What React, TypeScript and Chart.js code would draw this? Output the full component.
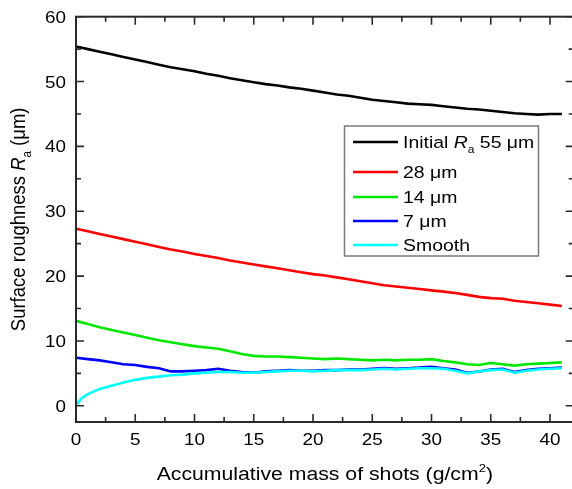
import React, { useEffect, useRef } from "react";
import { Chart, registerables } from "chart.js";

Chart.register(...registerables);

// ---- Data ----
const massX = [0, 1, 2, 3, 4, 5, 6, 7, 8, 9, 10, 11, 12, 13, 14, 15, 16, 17, 18, 19, 20, 21, 22, 23, 24, 25, 26, 27, 28, 29, 30, 31, 32, 33, 34, 35, 36, 37, 38, 39, 40, 41];
const initial55 = [55.4, 55.0, 54.6, 54.2, 53.8, 53.4, 53.0, 52.6, 52.2, 51.9, 51.6, 51.2, 50.9, 50.5, 50.2, 49.9, 49.6, 49.4, 49.1, 48.9, 48.6, 48.3, 48.0, 47.8, 47.5, 47.2, 47.0, 46.8, 46.6, 46.5, 46.4, 46.2, 46.0, 45.8, 45.7, 45.5, 45.3, 45.1, 45.0, 44.9, 45.0, 45.0];
const ra28 = [27.3, 26.9, 26.5, 26.1, 25.7, 25.3, 24.9, 24.5, 24.1, 23.8, 23.4, 23.1, 22.8, 22.4, 22.1, 21.8, 21.5, 21.2, 20.9, 20.6, 20.3, 20.1, 19.8, 19.5, 19.2, 18.9, 18.6, 18.4, 18.2, 18.0, 17.8, 17.6, 17.4, 17.1, 16.8, 16.6, 16.5, 16.2, 16.0, 15.8, 15.6, 15.4];
const ra14 = [13.1, 12.6, 12.1, 11.7, 11.3, 10.9, 10.5, 10.1, 9.8, 9.5, 9.2, 9.0, 8.8, 8.4, 8.0, 7.7, 7.6, 7.6, 7.5, 7.4, 7.3, 7.2, 7.3, 7.2, 7.1, 7.0, 7.1, 7.0, 7.1, 7.1, 7.2, 6.9, 6.7, 6.4, 6.3, 6.6, 6.4, 6.2, 6.4, 6.5, 6.6, 6.7];
const ra7 = [7.4, 7.2, 7.0, 6.7, 6.4, 6.3, 6.0, 5.8, 5.3, 5.3, 5.4, 5.5, 5.7, 5.4, 5.2, 5.1, 5.3, 5.4, 5.5, 5.4, 5.4, 5.5, 5.5, 5.6, 5.6, 5.7, 5.8, 5.7, 5.8, 5.9, 6.0, 5.8, 5.6, 5.1, 5.3, 5.6, 5.7, 5.2, 5.5, 5.7, 5.8, 5.9];
const smoothX = [0, 0.5, 1, 2, 3, 4, 5, 6, 7, 8, 9, 10, 11, 12, 13, 14, 15, 16, 17, 18, 19, 20, 21, 22, 23, 24, 25, 26, 27, 28, 29, 30, 31, 32, 33, 34, 35, 36, 37, 38, 39, 40, 41];
const smooth = [0.1, 1.2, 1.8, 2.6, 3.1, 3.6, 4.0, 4.3, 4.5, 4.7, 4.8, 5.0, 5.1, 5.2, 5.2, 5.1, 5.1, 5.2, 5.3, 5.4, 5.4, 5.3, 5.4, 5.5, 5.5, 5.5, 5.6, 5.7, 5.6, 5.7, 5.8, 5.8, 5.7, 5.4, 5.0, 5.3, 5.5, 5.6, 5.1, 5.4, 5.6, 5.7, 5.8];

const xMajorTicks = [0, 5, 10, 15, 20, 25, 30, 35, 40];
const xMinorTicks = [2.5, 7.5, 12.5, 17.5, 22.5, 27.5, 32.5, 37.5];
const yMajorTicks = [0, 10, 20, 30, 40, 50, 60];
const yMinorTicks = [5, 15, 25, 35, 45, 55];

const seriesNames = ["28 \u03bcm", "14 \u03bcm", "7 \u03bcm", "Smooth"];
const seriesColors = ["#000000", "#ff0000", "#00e800", "#0000ff", "#00ffff"];

// ---- Text helpers ----
const FONT = '"Liberation Sans", Arial, Helvetica, sans-serif';
const SX = 1.13; // horizontal stretch seen in the reference

type Seg = { t: string; it?: boolean; sub?: boolean; sup?: boolean };

function segFont(s: Seg, size: number) {
  const sz = s.sub || s.sup ? size * 0.62 : size;
  return `${s.it ? "italic " : ""}${sz}px ${FONT}`;
}
function richWidth(ctx: CanvasRenderingContext2D, segs: Seg[], size: number) {
  let w = 0;
  for (const s of segs) {
    ctx.font = segFont(s, size);
    w += ctx.measureText(s.t).width;
  }
  return w;
}
function drawRich(ctx: CanvasRenderingContext2D, segs: Seg[], x: number, y: number, size: number) {
  let cx = x;
  ctx.textBaseline = "alphabetic";
  ctx.textAlign = "left";
  for (const s of segs) {
    ctx.font = segFont(s, size);
    const dy = s.sub ? size * 0.28 : s.sup ? -size * 0.42 : 0;
    ctx.fillText(s.t, cx, y + dy);
    cx += ctx.measureText(s.t).width;
  }
}
// draw horizontally stretched text; anchor: 'left' | 'center' | 'right'; yc = vertical center of caps
function drawH(ctx: CanvasRenderingContext2D, segs: Seg[], x: number, yc: number, size: number, anchor: string) {
  const w = richWidth(ctx, segs, size) * SX;
  let x0 = x;
  if (anchor === "center") x0 = x - w / 2;
  if (anchor === "right") x0 = x - w;
  ctx.save();
  ctx.translate(x0, yc + size * 0.36);
  ctx.scale(SX, 1);
  drawRich(ctx, segs, 0, 0, size);
  ctx.restore();
}

const framePlugin = {
  id: "framePlugin",
  afterDatasetsDraw(chart: any) {
    const ctx: CanvasRenderingContext2D = chart.ctx;
    const { left, right, top, bottom } = chart.chartArea;
    const xs = chart.scales.x;
    const ys = chart.scales.y;
    ctx.save();
    // frame
    ctx.strokeStyle = "#2a2a2a";
    ctx.lineWidth = 2;
    ctx.strokeRect(left, top, right - left, bottom - top);
    // inward ticks
    ctx.lineWidth = 1.6;
    ctx.beginPath();
    const tick = (v: number, len: number, axis: string) => {
      if (axis === "x") {
        const p = xs.getPixelForValue(v);
        ctx.moveTo(p, bottom);
        ctx.lineTo(p, bottom - len);
        ctx.moveTo(p, top);
        ctx.lineTo(p, top + len);
      } else {
        const p = ys.getPixelForValue(v);
        ctx.moveTo(left, p);
        ctx.lineTo(left + len, p);
        ctx.moveTo(right, p);
        ctx.lineTo(right - len, p);
      }
    };
    xMajorTicks.forEach((v) => tick(v, 8, "x"));
    xMinorTicks.forEach((v) => tick(v, 5, "x"));
    yMajorTicks.forEach((v) => tick(v, 8, "y"));
    yMinorTicks.forEach((v) => tick(v, 5, "y"));
    ctx.stroke();

    // tick labels
    ctx.fillStyle = "#000";
    const tsz = 16.7;
    xMajorTicks.forEach((v) => drawH(ctx, [{ t: String(v) }], xs.getPixelForValue(v), 439, tsz, "center"));
    yMajorTicks.forEach((v) => drawH(ctx, [{ t: String(v) }], 66, ys.getPixelForValue(v), tsz, "right"));

    // x title
    drawH(
      ctx,
      [{ t: "Accumulative mass of shots (g/cm" }, { t: "2", sup: true }, { t: ")" }],
      (left + 573.7) / 2,
      473,
      18.8,
      "center"
    );

    // y title (rotated)
    const ysz = 18.5;
    const ySegs: Seg[] = [{ t: "Surface roughness " }, { t: "R", it: true }, { t: "a", sub: true }, { t: " (\u03bcm)" }];
    const yw = richWidth(ctx, ySegs, ysz);
    ctx.save();
    ctx.translate(17.5, (top + bottom) / 2);
    ctx.rotate(-Math.PI / 2);
    ctx.scale(1, SX);
    drawRich(ctx, ySegs, -yw / 2, ysz * 0.36, ysz);
    ctx.restore();

    // legend
    ctx.fillStyle = "#fff";
    ctx.fillRect(344.5, 126, 194, 130);
    ctx.strokeStyle = "#7a7a7a";
    ctx.lineWidth = 1.5;
    ctx.strokeRect(344.5, 126, 194, 130);
    const rows = [142, 172, 197, 221, 245];
    const labels: Seg[][] = [
      [{ t: "Initial " }, { t: "R", it: true }, { t: "a", sub: true }, { t: " 55 \u03bcm" }],
      ...seriesNames.map((n) => [{ t: n }]),
    ];
    rows.forEach((ry, i) => {
      ctx.strokeStyle = seriesColors[i];
      ctx.lineWidth = 2.6;
      ctx.beginPath();
      ctx.moveTo(353, ry);
      ctx.lineTo(398, ry);
      ctx.stroke();
      ctx.fillStyle = "#000";
      drawH(ctx, labels[i], 403, ry, 17.2, "left");
    });
    ctx.restore();
  },
};

export default function App() {
  const ref = useRef<HTMLCanvasElement | null>(null);
  useEffect(() => {
    if (!ref.current) return;
    const mk = (xv: number[], yv: number[]) => xv.map((x, i) => ({ x, y: yv[i] }));
    const allSeries = [
      mk(massX, initial55),
      mk(massX, ra28),
      mk(massX, ra14),
      mk(massX, ra7),
      mk(smoothX, smooth),
    ];
    const names = ["Initial Ra 55 \u03bcm", ...seriesNames];
    const chart = new Chart(ref.current, {
      type: "line",
      data: {
        datasets: allSeries.map((d, i) => ({
          label: names[i],
          data: d,
          borderColor: seriesColors[i],
          backgroundColor: seriesColors[i],
          borderWidth: 2.6,
          pointRadius: 0,
          tension: 0,
          fill: false,
          order: 4 - i,
        })),
      },
      options: {
        animation: false,
        responsive: false,
        events: [],
        layout: { padding: { left: 76, top: 16.7, right: 580 - 573.7, bottom: 489 - 422 } },
        plugins: { legend: { display: false }, tooltip: { enabled: false } },
        scales: {
          x: { type: "linear", min: 0, max: 42, display: false },
          y: { type: "linear", min: -2.5, max: 60, display: false },
        },
      },
      plugins: [framePlugin],
    });
    return () => chart.destroy();
  }, []);
  return (
    <div style={{ position: "fixed", left: 0, top: 0, width: 572, height: 489, overflow: "hidden", background: "#fff" }}>
      <canvas ref={ref} width={580} height={489} style={{ display: "block", width: 580, height: 489 }} />
    </div>
  );
}
